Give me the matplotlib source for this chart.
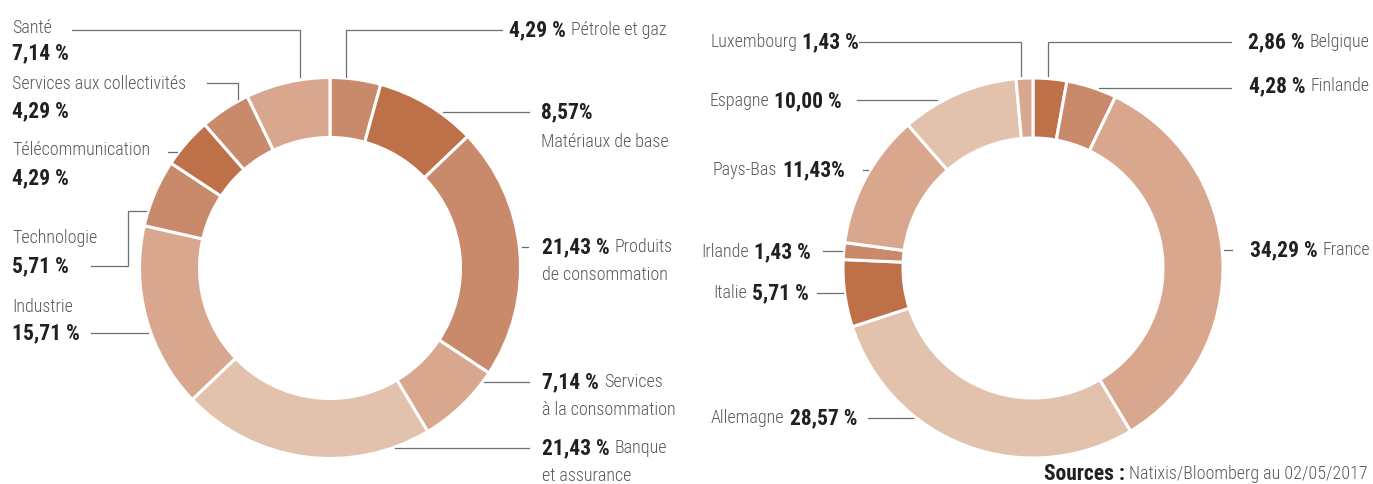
import matplotlib
matplotlib.use('Agg')
import matplotlib.pyplot as plt
from matplotlib import font_manager

# fonts: a narrow face is closer to the condensed original
names_avail = {f.name for f in font_manager.fontManager.ttflist}
FONT = 'DejaVu Sans'
for cand in ['Roboto Condensed', 'Liberation Sans Narrow', 'Open Sans Condensed', 'DejaVu Sans']:
    if cand in names_avail:
        FONT = cand
        break
plt.rcParams['font.family'] = [FONT, 'DejaVu Sans']

# data
sect_names = ['Pétrole et gaz', 'Matériaux de base', 'Produits de consommation',
              'Services à la consommation', 'Banque et assurance', 'Industrie',
              'Technologie', 'Télécommunication', 'Services aux collectivités', 'Santé']
sect_values = [4.29, 8.57, 21.43, 7.14, 21.43, 15.71, 5.71, 4.29, 4.29, 7.14]
sect_labels = ['4,29 %', '8,57%', '21,43 %', '7,14 %', '21,43 %', '15,71 %',
               '5,71 %', '4,29 %', '4,29 %', '7,14 %']

pays_names = ['Belgique', 'Finlande', 'France', 'Allemagne', 'Italie', 'Irlande',
              'Pays-Bas', 'Espagne', 'Luxembourg']
pays_values = [2.86, 4.28, 34.29, 28.57, 5.71, 1.43, 11.43, 10.00, 1.43]
pays_labels = ['2,86 %', '4,28 %', '34,29 %', '28,57 %', '5,71 %', '1,43 %',
               '11,43%', '10,00 %', '1,43 %']

DARK = '#BE7049'
MED = '#C98A6B'
LIGHT = '#D9A78D'
PALE = '#E2C1AD'
sect_colors = [MED, DARK, MED, LIGHT, PALE, LIGHT, MED, DARK, MED, LIGHT]
pays_colors = [DARK, MED, LIGHT, PALE, DARK, MED, LIGHT, PALE, LIGHT]

NAME_C = '#58595B'
NUM_C = '#231F20'
LINE_C = '#6D6E70'
FS = 13       # names
FSB = 15.5    # bold values

fig = plt.figure(figsize=(13.73, 4.84), dpi=100)
ax = fig.add_axes([0, 0, 1, 1])

# pixel-like coordinates, y downward -> startangle -90 + counterclock = clockwise from top
wp = dict(width=60, edgecolor='white', linewidth=2.2)
ax.pie(sect_values, colors=sect_colors, center=(330, 268), radius=190.5,
       startangle=-90, counterclock=True, wedgeprops=wp)
ax.pie(pays_values, colors=pays_colors, center=(1033, 268), radius=190,
       startangle=-90, counterclock=True, wedgeprops=wp)
ax.set_xlim(0, 1373)
ax.set_ylim(484, 0)
ax.set_aspect('equal')
ax.axis('off')


def leader(pts):
    ax.plot([p[0] for p in pts], [p[1] for p in pts], color=LINE_C, lw=0.9,
            solid_joinstyle='miter')


def num_then_name(x, y, num, name):
    t = ax.text(x, y, num, ha='left', va='center', fontsize=FSB,
                fontweight='bold', color=NUM_C)
    ax.annotate(name, xy=(1, 0.5), xycoords=t, xytext=(5, 0),
                textcoords='offset pixels', ha='left', va='center',
                fontsize=FS, fontweight='light', color=NAME_C)


def name_then_num_right(x, y, name, num):
    t = ax.text(x, y, num, ha='right', va='center', fontsize=FSB,
                fontweight='bold', color=NUM_C)
    ax.annotate(name, xy=(0, 0.5), xycoords=t, xytext=(-5, 0),
                textcoords='offset pixels', ha='right', va='center',
                fontsize=FS, fontweight='light', color=NAME_C)


def plain(x, y, s):
    ax.text(x, y, s, ha='left', va='center', fontsize=FS,
            fontweight='light', color=NAME_C)


def bold(x, y, s):
    ax.text(x, y, s, ha='left', va='center', fontsize=FSB,
            fontweight='bold', color=NUM_C)


# left donut, labels on the left (name above value)
left_side = {9: (28, 53), 8: (84, 111), 7: (150, 178), 6: (238, 266), 5: (307, 333)}
for i, (yn, yv) in left_side.items():
    plain(12, yn, sect_names[i])
    bold(12, yv, sect_labels[i])

# left donut, labels on the right
num_then_name(509, 30, sect_labels[0], sect_names[0])
bold(541, 112, sect_labels[1])
plain(541, 142, sect_names[1])
num_then_name(542, 247, sect_labels[2], 'Produits')
plain(542, 275, 'de consommation')
num_then_name(542, 382, sect_labels[3], 'Services')
plain(542, 410, 'à la consommation')
num_then_name(542, 448, sect_labels[4], 'Banque')
plain(542, 476, 'et assurance')

leader([(72, 30), (300, 30), (300, 77)])
leader([(207, 83), (238, 83), (238, 99)])
leader([(168, 152), (177, 152)])
leader([(91, 266), (128, 266), (128, 211), (146, 211)])
leader([(91, 333), (148, 333)])
leader([(346, 77), (346, 30), (502, 30)])
leader([(443, 112), (529, 112)])
leader([(522, 247), (528, 247)])
leader([(484, 382), (529, 382)])
leader([(395, 448), (529, 448)])

# right donut
right_left = {8: (859, 42), 7: (842, 101), 6: (845, 170), 5: (811, 252),
              4: (809, 293), 3: (857, 418)}
for i, (x, y) in right_left.items():
    name_then_num_right(x, y, pays_names[i], pays_labels[i])
num_then_name(1248, 42, pays_labels[0], pays_names[0])
num_then_name(1249, 86, pays_labels[1], pays_names[1])
num_then_name(1250, 250, pays_labels[2], pays_names[2])

leader([(859, 42), (1021, 42), (1021, 76)])
leader([(857, 100), (937, 100)])
leader([(863, 170), (868, 170)])
leader([(823, 251), (842, 251)])
leader([(817, 293), (843, 293)])
leader([(868, 418), (913, 418)])
leader([(1048, 76), (1048, 42), (1231, 42)])
leader([(1099, 88), (1231, 88)])
leader([(1224, 250), (1232, 250)])

# source
t = ax.text(1368, 474, 'Natixis/Bloomberg au 02/05/2017', ha='right', va='center',
            fontsize=FS, fontweight='light', color=NAME_C)
ax.annotate('Sources :', xy=(0, 0.5), xycoords=t, xytext=(-5, 0),
            textcoords='offset pixels', ha='right', va='center', fontsize=FSB,
            fontweight='bold', color=NUM_C)

fig.savefig('out.png', dpi=100)
